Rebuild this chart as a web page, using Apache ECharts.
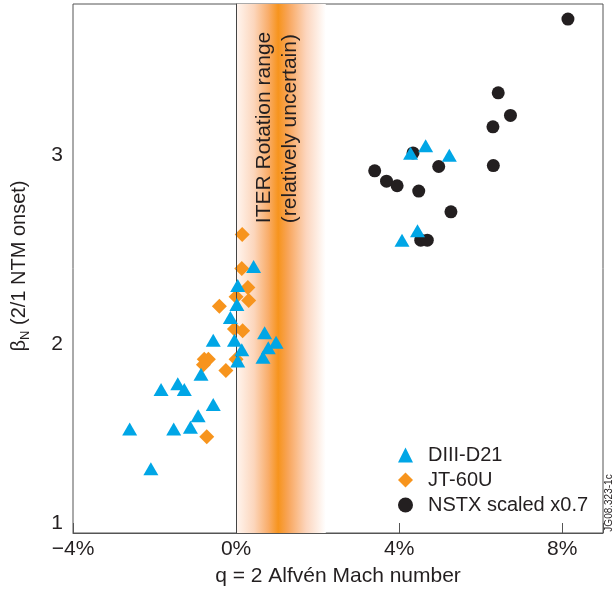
<!DOCTYPE html>
<html><head><meta charset="utf-8">
<script src="https://cdn.jsdelivr.net/npm/echarts@6/dist/echarts.min.js"></script>
<style>html,body{margin:0;padding:0;background:#fff}#c{width:615px;height:592px}</style>
</head><body><div id="c"></div>
<script>
// ---- data ----
const xTickValues = [-4, 0, 4, 8];
const yTickValues = [1, 2, 3];
const iterBand = [0, 2.2];
const iterCentre = 1.05;
const diiid = [
  [-2.61,1.55],[-2.09,1.34],[-1.84,1.76],[-1.53,1.55],[-1.43,1.79],[-1.27,1.76],
  [-1.12,1.56],[-0.93,1.62],[-0.86,1.84],[-0.56,1.68],[-0.56,2.02],[-0.14,2.14],
  [-0.04,2.02],[0.02,2.21],[0.04,2.31],[0.04,1.91],[0.14,1.97],[0.43,2.41],
  [0.66,1.93],[0.70,2.06],[0.79,1.98],[0.98,2.01],
  [4.07,2.55],[4.45,2.60],[4.28,3.01],[4.65,3.05],[5.23,3.00]
];
const jt60u = [
  [0.15,2.58],[0.14,2.40],[0.29,2.30],[0.00,2.25],[0.31,2.23],[-0.41,2.20],
  [-0.04,2.08],[0.16,2.07],[-0.78,1.92],[-0.68,1.92],[-0.80,1.89],[0.00,1.92],
  [-0.25,1.86],[-0.72,1.51]
];
const nstx = [
  [8.14,3.72],[6.43,3.33],[6.73,3.21],[6.30,3.15],[6.31,2.945],[3.40,2.917],
  [3.69,2.862],[3.95,2.838],[4.34,3.012],[4.97,2.94],[4.48,2.81],[5.27,2.70],
  [4.53,2.55],[4.69,2.55]
];
const seriesNames = ['DIII-D21', 'JT-60U', 'NSTX scaled x0.7'];
const annotationLines = ['ITER Rotation range', '(relatively uncertain)'];

// ---- chart ----
const FONT = '"Liberation Sans", Arial, Helvetica, sans-serif';
const TXT = '#231f20';
const chart = echarts.init(document.getElementById('c'), null, {renderer: 'canvas'});

const bandGradient = new echarts.graphic.LinearGradient(0, 0, 1, 0, [
  {offset: 0, color: '#fff6f1'},
  {offset: 0.2, color: '#fcd6bc'},
  {offset: 0.36, color: '#f9ad6a'},
  {offset: 0.47, color: '#f7941d'},
  {offset: 0.58, color: '#f8a55a'},
  {offset: 0.78, color: '#fcd5bd'},
  {offset: 1, color: '#ffffff'}
]);

const option = {
  animation: false,
  backgroundColor: '#fff',
  grid: {left: 73, right: 12, top: 4, bottom: 59, show: true, borderColor: '#555', borderWidth: 1, backgroundColor: 'transparent'},
  xAxis: {
    type: 'value', min: -4, max: 9, interval: 4,
    axisLine: {show: true, lineStyle: {color: '#555', width: 1}},
    axisTick: {show: true, inside: true, length: 10, lineStyle: {color: '#555'}},
    splitLine: {show: false},
    axisLabel: {
      fontSize: 21, color: TXT, fontFamily: FONT, margin: 6,
      formatter: v => xTickValues.includes(v) ? (v < 0 ? '\u2212' : '') + Math.abs(v) + '%' : ''
    },
    name: 'q = 2 Alfv\u00e9n Mach number', nameLocation: 'middle', nameGap: 33,
    nameTextStyle: {fontSize: 21, color: TXT, fontFamily: FONT}
  },
  yAxis: {
    type: 'value', min: 1, max: 3.8, interval: 1,
    axisLine: {show: true, lineStyle: {color: '#555', width: 1}},
    axisTick: {show: true, inside: true, length: 10, lineStyle: {color: '#555'}},
    splitLine: {show: false},
    axisLabel: {
      fontSize: 21, color: TXT, fontFamily: FONT, margin: 10,
      formatter: v => !yTickValues.includes(v) ? '' : (v === yTickValues[0] ? '{up|' + v + '}' : String(v)),
      rich: {up: {fontSize: 21, fontFamily: FONT, color: TXT, padding: [0, 0, 20, 0]}}
    }
  },
  legend: {
    orient: 'vertical', left: 393, top: 440, itemWidth: 15, itemHeight: 15, itemGap: 5,
    data: seriesNames,
    textStyle: {fontSize: 20, color: TXT, fontFamily: FONT, padding: [0, 0, 0, 10]}
  },
  series: [
    {
      type: 'scatter', name: 'band', data: [], silent: true, z: 1,
      markArea: {silent: true, itemStyle: {color: bandGradient}, data: [[{xAxis: iterBand[0]}, {xAxis: iterBand[1]}]]},
      markLine: {silent: true, symbol: 'none', label: {show: false}, lineStyle: {color: '#444', width: 1, type: 'solid'}, data: [{xAxis: 0}]}
    },
    {type: 'scatter', name: seriesNames[2], data: nstx, symbol: 'circle', symbolSize: 13, itemStyle: {color: TXT, opacity: 1}, z: 3},
    {type: 'scatter', name: seriesNames[1], data: jt60u, symbol: 'diamond', symbolSize: 15, itemStyle: {color: '#f7941d', opacity: 1}, z: 4},
    {type: 'scatter', name: seriesNames[0], data: diiid, symbol: 'triangle', symbolSize: [15, 13], itemStyle: {color: '#00a6e6', opacity: 1}, z: 5}
  ]
};
chart.setOption(option);

const p1 = chart.convertToPixel({gridIndex: 0}, [iterCentre - 0.36, 2.64]);
const p2 = chart.convertToPixel({gridIndex: 0}, [iterCentre + 0.27, 2.64]);
chart.setOption({
  graphic: [
    {type: 'text', x: p1[0], y: p1[1], rotation: Math.PI / 2, z: 10,
     style: {text: annotationLines[0], fontSize: 21, fontFamily: FONT, fill: TXT, align: 'left', verticalAlign: 'middle'}},
    {type: 'text', x: p2[0], y: p2[1], rotation: Math.PI / 2, z: 10,
     style: {text: annotationLines[1], fontSize: 21, fontFamily: FONT, fill: TXT, align: 'left', verticalAlign: 'middle'}},
    {type: 'text', x: 19, y: 266, rotation: Math.PI / 2, z: 10,
     style: {text: '{b|\u03b2}{s|N}{b| (2/1 NTM onset)}', align: 'center', verticalAlign: 'middle',
       rich: {b: {fontSize: 20, fontFamily: FONT, fill: TXT, lineHeight: 26}, s: {fontSize: 13, fontFamily: FONT, fill: TXT, lineHeight: 13, verticalAlign: 'bottom'}}}},
    {type: 'text', x: 609, y: 503, rotation: Math.PI / 2, z: 10,
     style: {text: 'JG08.323-1c', fontSize: 10, fontFamily: FONT, fill: TXT, align: 'center', verticalAlign: 'middle'}}
  ]
});
</script>
</body></html>
